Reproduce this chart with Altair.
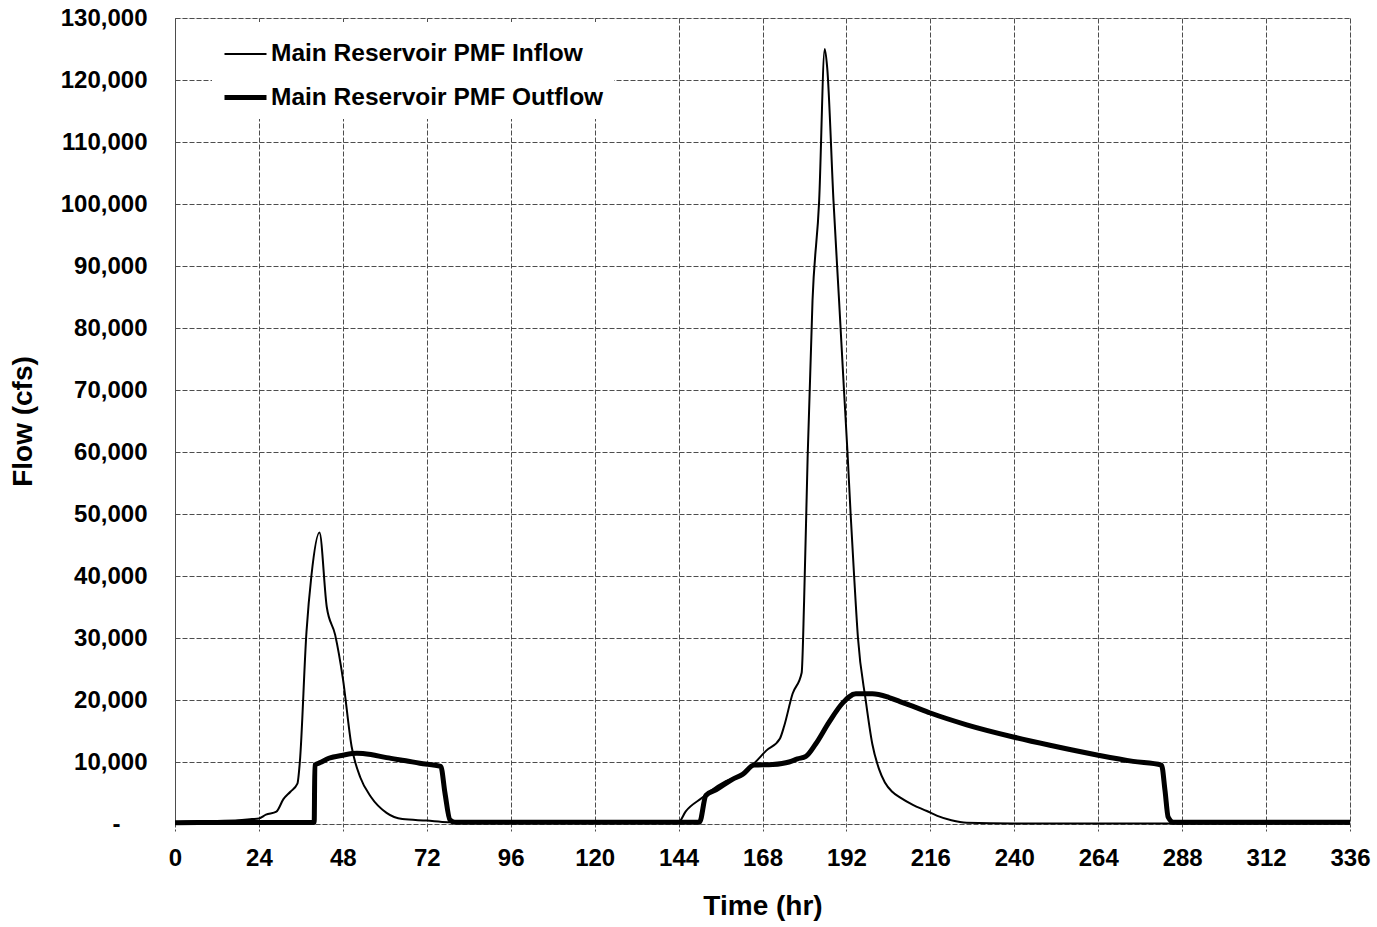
import altair as alt
import pandas as pd

SERIES = ["Main Reservoir PMF Inflow", "Main Reservoir PMF Outflow"]

inflow_hr = [0, 6, 12, 18, 22, 24, 26, 29, 31, 33, 35, 35.7, 37.6, 39, 41.3, 43.4, 45.8,
             48, 50.5, 53, 56, 60.5, 65, 72, 78, 90, 120, 144, 146, 150.9, 152.8, 157.5,
             162.3, 166, 169, 173, 174.2, 176.6, 179.2, 179.9, 180.9, 182.3, 184.2, 185.8,
             186.5, 188.3, 189.9, 191.3, 192.3, 193.2, 194.2, 195.3, 197.5, 199.4, 201.3,
             203, 205.1, 207.3, 211, 215, 218, 222, 226.4, 240, 264, 288, 336]
inflow_cfs = [300, 400, 500, 600, 800, 900, 1500, 2000, 4000, 5200, 6500, 10000, 31000,
              40000, 47000, 35000, 30500, 23500, 12500, 7500, 4400, 1800, 800, 550, 300,
              250, 250, 300, 2000, 4300, 5200, 6900, 8000, 10000, 11800, 13800, 15800,
              21000, 24400, 36000, 59000, 84400, 100500, 125000, 122000, 100500, 84400,
              70000, 60000, 50000, 40000, 30000, 20000, 12900, 8900, 6700, 5200, 4300,
              3100, 2100, 1300, 600, 200, 100, 100, 100, 100]

outflow_hr = [0, 20, 39.8, 40, 41.5, 44, 48, 52, 56, 60.5, 66, 70, 76, 77.2, 78.6, 80,
              120, 144, 150, 151.8, 154.7, 159.4, 162.3, 165.6, 170.9, 175.6, 178, 180.4,
              183.2, 187, 190.9, 194.7, 199.4, 204.2, 207.3, 210.9, 216, 226.4, 240, 250.2,
              264, 274, 282.1, 283.1, 284, 285.5, 312, 336]
outflow_cfs = [200, 250, 250, 9500, 9900, 10600, 11100, 11400, 11200, 10700, 10200, 9800,
               9300, 5000, 700, 300, 300, 300, 300, 4600, 5500, 7200, 8000, 9500, 9600,
               10000, 10500, 10900, 12900, 16400, 19500, 21000, 21000, 20400, 19750, 19000,
               17900, 16000, 14000, 12700, 11100, 10100, 9500, 5400, 1100, 300, 300, 300]

x_ticks = list(range(0, 337, 24))
y_ticks = list(range(0, 130001, 10000))

df = pd.concat([
    pd.DataFrame({"hr": inflow_hr, "cfs": inflow_cfs, "series": SERIES[0], "order": 0}),
    pd.DataFrame({"hr": outflow_hr, "cfs": outflow_cfs, "series": SERIES[1], "order": 1}),
])

FONT = "Liberation Sans"
GRID = "#4d4d4d"

chart = alt.Chart(df).mark_line(color="black", interpolate="monotone").encode(
    x=alt.X("hr:Q", title="Time (hr)",
            scale=alt.Scale(domain=[0, 336], nice=False, zero=False),
            axis=alt.Axis(values=x_ticks, grid=True, gridColor=GRID, gridDash=[5, 2],
                          gridWidth=1, domain=False, ticks=True, tickSize=7,
                          tickColor=GRID, tickDash=[3, 2],
                          labelFont=FONT, labelFontSize=24, labelFontWeight="bold",
                          labelColor="black", labelPadding=15, labelFlush=False,
                          titleFont=FONT, titleFontSize=28, titleFontWeight="bold",
                          titleColor="black", titlePadding=22)),
    y=alt.Y("cfs:Q", title="Flow (cfs)",
            scale=alt.Scale(domain=[0, 130000], nice=False),
            axis=alt.Axis(values=y_ticks, grid=True, gridColor=GRID, gridDash=[5, 2],
                          gridWidth=1, domain=True, domainColor=GRID, domainDash=[5, 2],
                          ticks=False,
                          labelExpr="datum.value == 0 ? '-' : format(datum.value, ',')",
                          labelFont=FONT, labelFontSize=24, labelFontWeight="bold",
                          labelColor="black",
                          labelPadding={"condition": {"test": "datum.value === 0", "value": 55},
                                        "value": 28},
                          titleFont=FONT, titleFontSize=28, titleFontWeight="bold",
                          titleColor="black", titlePadding=23)),
    strokeWidth=alt.StrokeWidth(
        "series:N",
        scale=alt.Scale(type="ordinal", domain=SERIES, range=[2, 5]),
        legend=alt.Legend(title=None, orient="none", legendX=37, legendY=4,
                          symbolType="stroke", symbolSize=1764,
                          symbolStrokeColor="black", labelFont=FONT, labelFontSize=24.5,
                          labelFontWeight="bold", labelColor="black", labelOffset=2,
                          rowPadding=8, padding=10, fillColor="white",
                          labelLimit=500)),
    detail="series:N",
    order="order:Q",
).properties(
    width=1175, height=806,
    autosize=alt.AutoSizeParams(type="none"),
    padding={"left": 175, "top": 18, "right": 27, "bottom": 103},
).configure_view(stroke=None).configure(background="white")

chart.save("out.html", embed_options={"renderer": "svg", "actions": False})
